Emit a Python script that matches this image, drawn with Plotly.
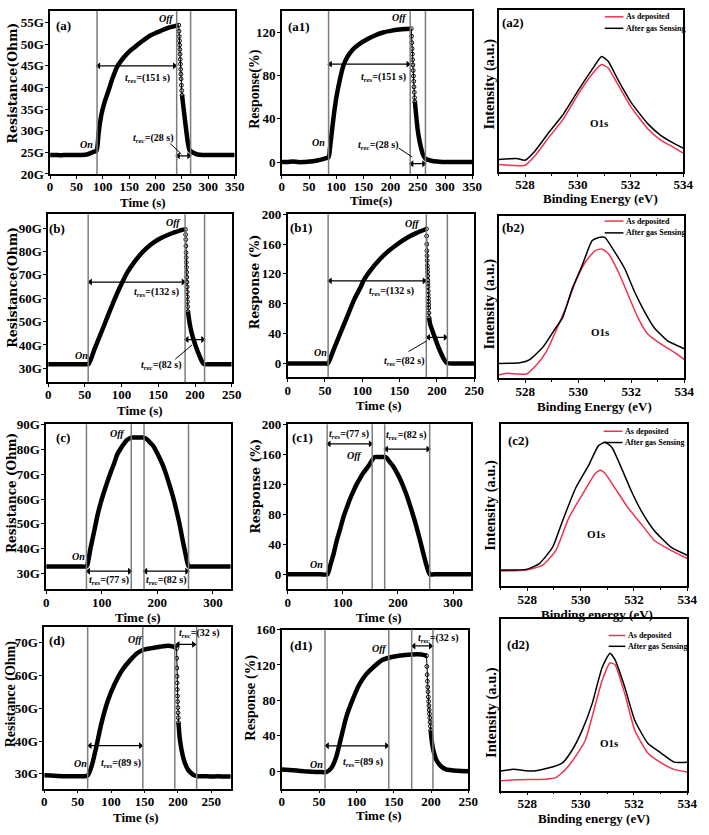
import plotly.graph_objects as go

W, H = 709, 835

# ---------------- DATA ----------------
# (a) resistance, G-ohm
a_t = [0, 10, 20, 30, 40, 50, 60, 70, 80, 88, 92, 97, 103, 110, 118, 128, 140, 150, 160, 170, 180, 190, 200, 210, 220, 230, 240, 244]
a_R = [24.4, 24.4, 24.3, 24.4, 24.4, 24.4, 24.4, 24.5, 25.0, 25.4, 29.5, 33.6, 36.5, 39.0, 42.0, 45.0, 47.0, 48.3, 49.3, 50.3, 51.2, 52.0, 52.6, 53.1, 53.6, 54.0, 54.3, 54.4]
a_dot_t = [244, 244.4, 244.8, 245.2, 245.6, 246, 246.4, 246.8, 247.2, 247.6, 248, 248.4, 249, 249.6, 250.2]
a_dot_R = [54.4, 53.0, 51.8, 50.8, 49.8, 48.8, 47.7, 46.5, 45.4, 44.2, 43.1, 42.0, 40.5, 39.3, 38.2]
a_tail_t = [250.2, 252, 255, 258, 261, 264, 266, 270, 275, 280, 290, 300, 310, 320, 330, 340, 350]
a_tail_R = [38.2, 36.3, 33.2, 30.2, 27.4, 25.6, 25.3, 25.0, 24.7, 24.5, 24.4, 24.4, 24.4, 24.4, 24.4, 24.4, 24.4]

# (a1) response %
a1_t = [0, 10, 20, 30, 40, 50, 60, 70, 80, 86, 89, 92, 96, 101, 107, 113, 120, 131, 143, 156, 170, 186, 200, 216, 228, 238]
a1_r = [0, 0, 0.5, 0, 0, 0.5, 1, 2, 3.5, 4.5, 15, 28, 45, 62, 77, 89, 97, 104.5, 109.5, 113.5, 117, 120, 121.5, 122.7, 123.2, 123.5]
a1_dot_t = [238, 238.5, 239, 239.5, 240, 240.5, 241, 241.5, 242, 242.5, 243, 243.5, 244, 244.5]
a1_dot_r = [123.5, 116.6, 110.6, 105.1, 100, 94.8, 90, 84.8, 79.7, 74.8, 69.7, 64.6, 59.7, 56]
a1_tail_t = [244.5, 247, 250, 253, 256, 259, 264, 270, 277, 290, 300, 310, 320, 330, 340, 350]
a1_tail_r = [56, 43, 29, 20, 13, 7.6, 3.0, 2.0, 1.0, 0.3, 0, 0, 0, 0, 0, 0]

# (b)
b_t = [0, 10, 20, 30, 40, 50, 55, 63, 72, 81, 90, 99, 108, 117, 128, 139, 150, 162, 173, 184, 187]
b_R = [31.8, 31.8, 31.8, 31.8, 31.8, 31.8, 31.8, 38.1, 45.1, 52.2, 59.2, 65.5, 71.1, 75.3, 79.5, 82.7, 85.1, 86.9, 88.2, 89.3, 89.4]
b_dot_t = [187.0, 187.2, 187.4, 187.6, 187.8, 188.0, 188.2, 188.4, 188.6, 188.8, 189.0, 189.2, 189.4, 189.6, 189.8, 190.0, 190.4]
b_dot_R = [89.4, 87.2, 85.1, 82.3, 79.5, 77.4, 75.3, 73.2, 71.1, 69.0, 66.9, 64.8, 62.7, 60.6, 58.5, 56.4, 54.3]
b_tail_t = [190.4, 193, 197, 202, 206, 209, 212, 220, 230, 240, 250]
b_tail_R = [54.3, 48.7, 43.3, 38.6, 35.4, 33.2, 31.8, 31.8, 31.8, 31.8, 31.8]

# (b1)
b1_t = [0, 10, 20, 30, 40, 50, 54, 62, 71, 80, 89, 98, 102, 111, 122, 133, 147, 160, 173, 184, 186]
b1_r = [0, 0, 0, 0, 0, 0, 0, 19.7, 41.6, 63.5, 85.3, 102.8, 111.6, 124.7, 137.9, 148.8, 159.7, 168.5, 175, 179.5, 180.3]
b1_dot_t = [186.0, 186.2, 186.4, 186.6, 186.8, 187.0, 187.2, 187.4, 187.5, 187.7, 187.9, 188.0, 188.2, 188.4, 188.5, 188.7, 188.8, 189.0, 189.1, 189.3, 189.5]
b1_dot_r = [180.3, 170.7, 159.7, 151.0, 144.4, 137.9, 131.3, 126.9, 122.5, 117.3, 111.6, 107.2, 102.8, 97.2, 91.9, 87.5, 83.2, 78.8, 74.4, 67.8, 61.3]
b1_tail_t = [189.5, 191, 195.6, 202, 209, 213, 220, 230, 240, 250]
b1_tail_r = [61.3, 52.5, 39.4, 21.9, 6.6, 0.9, 0, 0, 0, 0]

# (c)
c_t = [0, 10, 20, 30, 40, 50, 60, 72, 74, 80, 86.5, 92, 98, 104, 110, 116, 122, 128, 134, 140, 146, 153, 158, 164, 170, 176, 181, 186.5, 192, 198, 204, 210, 216, 222, 228, 234, 240, 245, 250, 256, 260, 270, 280, 290, 300, 310, 320, 332]
c_R = [32.9, 32.9, 32.9, 32.9, 32.9, 32.9, 32.9, 32.9, 33.5, 40.5, 47.2, 53.2, 58.4, 62.8, 66.9, 70.7, 74.2, 78.0, 80.3, 82.3, 83.8, 84.7, 84.7, 84.7, 84.7, 84.7, 84.0, 82.8, 81.5, 79.2, 76.5, 73.5, 69.8, 65.5, 61.0, 55.7, 49.8, 44.0, 38.6, 33.0, 32.9, 32.9, 32.9, 32.9, 32.9, 32.9, 32.9, 32.9]

# (c1)
c1_t = [0, 10, 20, 30, 40, 50, 60, 72, 78, 83.5, 89, 95.4, 101, 107.3, 113, 119.3, 125, 131.2, 137, 143.1, 148, 153.3, 158, 165, 170, 176, 180, 185, 191, 197, 203, 209, 215, 221, 227, 233, 239, 245, 251, 257.6, 265, 275, 285, 295, 305, 315, 325, 333]
c1_r = [0, 0, 0, 0, 0, 0, 0, 0, 14, 28, 45, 61, 76, 89, 100.5, 111, 120, 128, 135, 141, 146, 152.5, 156.5, 156.5, 156.5, 156.5, 155, 150, 144.5, 137, 128.5, 118.5, 107, 94, 80, 65, 48.5, 31, 14, 0, 0, 0, 0, 0, 0, 0, 0, 0]

# (d)
d_t = [0, 10, 20, 30, 40, 50, 60, 65, 70.8, 78, 85.4, 95, 105, 117, 129, 139, 147.5, 159, 173, 185.5, 193, 198]
d_R = [29.6, 29.5, 29.4, 29.3, 29.3, 29.3, 29.3, 29.5, 32.3, 38.3, 45.3, 52.2, 57.2, 61.7, 64.7, 66.7, 67.7, 68.2, 68.7, 69.0, 68.7, 68.2]
d_dot_t = [198, 198.2, 198.4, 198.6, 198.8, 199, 199.3, 199.6, 199.9, 200.2, 200.5, 200.8]
d_dot_R = [68.2, 65.2, 62.2, 59.7, 57.7, 55.7, 53.7, 52.0, 50.2, 48.6, 47.1, 45.6]
d_tail_t = [200.8, 203, 207.5, 211, 215, 220, 225, 230, 240, 250, 260, 270, 279]
d_tail_R = [45.6, 40.3, 35.3, 33.0, 31.3, 30.2, 29.5, 29.3, 29.3, 29.2, 29.3, 29.2, 29.2]

# (d1)
d1_t = [0, 10, 20, 30, 40, 50, 60, 66.7, 73.2, 79.8, 86.4, 95.2, 103.9, 112.7, 123.7, 134.6, 143.4, 156.6, 174, 187, 194]
d1_r = [1.8, 1.2, 0.5, -0.3, -0.8, -1.1, -1.1, 3.7, 16.6, 38.8, 61, 81.3, 97.9, 109, 118.3, 125.6, 128.2, 130.4, 131.9, 131.9, 130.4]
d1_dot_t = [194, 194.4, 194.8, 195.2, 195.6, 196, 196.4, 196.8, 197.2, 197.6, 198, 198.4, 198.8, 199.2, 199.6]
d1_dot_r = [130.4, 118.3, 109, 101.6, 95, 89.8, 83.9, 78.7, 73.9, 69.1, 64.7, 60.2, 55.4, 50.6, 46.2]
d1_tail_t = [199.6, 201, 203, 207, 212, 216, 220, 225, 230, 240, 250]
d1_tail_r = [46.2, 34, 24, 12.9, 6.5, 3.7, 2.0, 1.1, 0.5, 0, -0.2]

# XPS O1s (arbitrary intensity units)
a2_E_gas = [527, 527.68, 528.0, 528.36, 528.92, 529.42, 530.04, 530.53, 530.9, 531.15, 531.52, 532.02, 532.64, 533.13, 533.63, 534]
a2_gas = [7.7, 8.3, 7.3, 12.7, 24.8, 35, 51, 63, 71.3, 68.3, 57, 43, 30, 22.8, 17.8, 14.7]
a2_E_dep = [527, 528.0, 528.36, 528.92, 529.42, 530.04, 530.53, 530.9, 531.15, 531.52, 532.02, 532.64, 533.13, 533.63, 534]
a2_dep = [4.6, 4.2, 9.7, 21.8, 32, 48.7, 60.2, 66.3, 64.2, 54, 40, 26.9, 19.8, 15.2, 11.7]

b2_E_gas = [527, 527.8, 528.17, 528.67, 529.16, 529.41, 529.78, 530.15, 530.52, 530.77, 531.0, 531.38, 531.75, 532.12, 532.49, 532.86, 533.36, 534]
b2_gas = [9.1, 9.5, 11.5, 19.2, 31.3, 37.4, 55.6, 69.7, 84.8, 86.9, 86.9, 77.8, 67.7, 53.5, 41.4, 31.3, 23.2, 18.2]
b2_E_dep = [527, 527.3, 527.7, 528.05, 528.42, 528.79, 529.16, 529.53, 529.9, 530.27, 530.64, 530.89, 531.14, 531.51, 531.88, 532.25, 532.62, 533.11, 533.6, 534]
b2_dep = [2, 3, 2.6, 2.6, 8.1, 16.2, 29.3, 43.4, 59.6, 71.7, 78.8, 79.8, 76.8, 65.7, 51.5, 37.4, 27.3, 21.2, 16.2, 11.5]

c2_E_gas = [527, 527.96, 528.45, 528.95, 529.32, 529.81, 530.3, 530.67, 530.92, 531.17, 531.54, 531.91, 532.28, 532.77, 533.39, 534]
c2_gas = [10.1, 10.5, 14.1, 24.2, 40.4, 60.6, 74.7, 86.9, 88.9, 85.9, 72.7, 58.6, 46.5, 34.3, 24.2, 19.2]
c2_E_dep = [527, 527.47, 527.96, 528.58, 529.07, 529.56, 530.06, 530.55, 530.74, 530.92, 531.29, 531.78, 532.28, 532.77, 533.39, 534]
c2_dep = [9.5, 9.7, 10.1, 13.1, 22.2, 42.4, 56.6, 69.7, 71.7, 69.7, 60.6, 48.5, 38.4, 28.3, 22.2, 17.2]

d2_E_gas = [527, 527.47, 528.2, 528.82, 529.32, 529.69, 530.06, 530.43, 530.8, 531.1, 531.29, 531.66, 532.03, 532.52, 533.02, 533.51, 534]
d2_gas = [11.4, 12.4, 11.4, 13.3, 16.2, 23.8, 35.2, 50.5, 71.4, 80, 76.2, 60, 41, 27.6, 21.9, 16.6, 16.6]
d2_E_dep = [527, 527.59, 528.7, 529.07, 529.44, 529.81, 530.18, 530.43, 530.8, 531.1, 531.29, 531.66, 532.03, 532.52, 533.02, 533.51, 534]
d2_dep = [5.7, 6.3, 6.7, 7.6, 12.4, 20, 29.5, 42.9, 63.8, 74.3, 73.3, 56.2, 35.2, 21.9, 16.2, 12.4, 10.9]

xps_x_ticks = [528, 530, 532, 534]
series_names = ['As deposited', 'After gas Sensing']

# ---------------- LAYOUT ----------------
order = ['a', 'a1', 'a2', 'b', 'b1', 'b2', 'c', 'c1', 'c2', 'd', 'd1', 'd2']
boxes = {  # left, right, top, bottom (px)
    'a': (48, 236, 4, 170), 'a1': (284, 478, 4, 170), 'a2': (505, 693, 3, 168),
    'b': (46, 233, 211, 382), 'b1': (290, 480, 211, 377), 'b2': (505, 694, 213, 378),
    'c': (44, 232, 425, 593), 'c1': (290, 477, 425, 593), 'c2': (507, 697, 425, 590),
    'd': (42, 232, 631, 796), 'd1': (284, 474, 634, 796), 'd2': (507, 697, 623, 798),
}
ranges = {
    'a': ([0, 350], [20, 57.7], 50, 5), 'a1': ([0, 350], [-11, 140], 50, 40), 'a2': ([527, 534], [0, 100], None, None),
    'b': ([0, 250], [24.1, 95.9], 50, 10), 'b1': ([0, 250], [-18.4, 200], 50, 40), 'b2': ([527, 534], [0, 100], None, None),
    'c': ([0, 332], [23.7, 90], 100, 10), 'c1': ([0, 333], [-20, 200], 100, 40), 'c2': ([527, 534], [0, 100], None, None),
    'd': ([0, 279], [25.5, 74.8], 50, 10), 'd1': ([0, 250], [-20, 160], 50, 40), 'd2': ([527, 534], [0, 100], None, None),
}
SER = 'Liberation Serif'
DJ = 'DejaVu Serif'
# text, center x px, center y px
xtitles = {'a': ('Time (s)', 143, 199), 'a1': ('Time(s)', 375, 197), 'a2': ('Binding Energy (eV)', 609, 195),
           'b': ('Time (s)', 140, 411), 'b1': ('Time (s)', 383, 406), 'b2': ('Binding Energy (eV)', 603, 407),
           'c': ('Time (s)', 138, 622), 'c1': ('Time (s)', 383, 622), 'c2': ('Binding energy (eV)', 605, 619),
           'd': ('Time (s)', 135, 825), 'd1': ('Time (s)', 383, 823), 'd2': ('Binding energy (eV)', 602, 826)}
ytitles = {'a': ('Resistance(Ohm)', DJ, 12.5, 10, 77), 'a1': ('Response(%)', SER, 14, 256, 83),
           'a2': ('Intensity (a.u.)', SER, 14.5, 496, 78),
           'b': ('Resistance(Ohm)', DJ, 12.5, 10, 285), 'b1': ('Response (%)', DJ, 12.5, 257, 280),
           'b2': ('Intensity (a.u.)', SER, 14.5, 496, 302),
           'c': ('Resistance (Ohm)', DJ, 12, 9, 495), 'c1': ('Response (%)', DJ, 12.5, 257, 488),
           'c2': ('Intensity (a.u.)', SER, 14.5, 497, 507),
           'd': ('Resistance (Ohm)', SER, 14, 9, 700), 'd1': ('Response (%)', SER, 14.5, 252, 703),
           'd2': ('Intensity (a.u.)', SER, 14.5, 497, 718)}

fig = go.Figure()
lay = {}
shapes = []
annots = []


def axn(k):
    i = order.index(k) + 1
    return ('x' if i == 1 else f'x{i}', 'y' if i == 1 else f'y{i}', 'xaxis' if i == 1 else f'xaxis{i}', 'yaxis' if i == 1 else f'yaxis{i}')


tickfont = dict(family=SER, size=13, color='black', weight='bold')
for k in order:
    xa, ya, xk, yk = axn(k)
    l, r, t, b = boxes[k]
    xr, yr, dx, dy = ranges[k]
    common = dict(showline=True, linecolor='black', linewidth=1.5, mirror=True, showgrid=False, zeroline=False,
                  ticks='outside', ticklen=3, tickwidth=1.2, tickcolor='black', tickfont=tickfont, fixedrange=True)
    xax = dict(common, domain=[l / W, r / W], range=xr, anchor=ya, ticklabelstandoff=-3)
    yax = dict(common, domain=[1 - b / H, 1 - t / H], range=yr, anchor=xa, ticklabelstandoff=-1)
    if dx is None:
        xax.update(tickvals=xps_x_ticks, minor=dict(dtick=1, ticks='outside', ticklen=2, tickcolor='black'))
        yax.update(showticklabels=False, ticks='')
    else:
        xax.update(dtick=dx, tick0=0)
        yax.update(dtick=dy, tick0=0)
        if k in ('a', 'b', 'c', 'd'):
            yax.update(ticksuffix='G')
    lay[xk] = xax
    lay[yk] = yax
    xt, xcx, xcy = xtitles[k]
    annots.append(dict(xref='paper', yref='paper', x=xcx / W, y=1 - xcy / H, text=xt, showarrow=False,
                       xanchor='center', yanchor='middle',
                       font=dict(family=SER, size=13, color='black', weight='bold')))
    yt, yfam, ysz, ycx, ycy = ytitles[k]
    annots.append(dict(xref='paper', yref='paper', x=ycx / W, y=1 - ycy / H, text=yt, showarrow=False,
                       textangle=-90, xanchor='center', yanchor='middle',
                       font=dict(family=yfam, size=ysz, color='black', weight='bold')))

THICK = dict(color='black', width=4.5, shape='spline', smoothing=0.6)


def sensor(k, t1, y1, td=None, yd=None, t2=None, y2=None):
    xa, ya, _, _ = axn(k)
    fig.add_trace(go.Scatter(x=t1, y=y1, mode='lines', line=THICK, xaxis=xa, yaxis=ya, showlegend=False, hoverinfo='skip'))
    if td is not None:
        fig.add_trace(go.Scatter(x=td, y=yd, mode='lines+markers', line=dict(color='black', width=1),
                                 marker=dict(symbol='circle-open', size=3.8, color='black', line=dict(width=1)),
                                 xaxis=xa, yaxis=ya, showlegend=False, hoverinfo='skip'))
        fig.add_trace(go.Scatter(x=t2, y=y2, mode='lines', line=THICK, xaxis=xa, yaxis=ya, showlegend=False, hoverinfo='skip'))


sensor('a', a_t, a_R, a_dot_t, a_dot_R, a_tail_t, a_tail_R)
sensor('a1', a1_t, a1_r, a1_dot_t, a1_dot_r, a1_tail_t, a1_tail_r)
sensor('b', b_t, b_R, b_dot_t, b_dot_R, b_tail_t, b_tail_R)
sensor('b1', b1_t, b1_r, b1_dot_t, b1_dot_r, b1_tail_t, b1_tail_r)
sensor('c', c_t, c_R)
sensor('c1', c1_t, c1_r)
sensor('d', d_t, d_R, d_dot_t, d_dot_R, d_tail_t, d_tail_R)
sensor('d1', d1_t, d1_r, d1_dot_t, d1_dot_r, d1_tail_t, d1_tail_r)

RED = '#f2314f'
# panel, dep-x, dep-y, gas-x, gas-y, legend line x0/x1 px, legend first-row y px, row gap px
xps = [('a2', a2_E_dep, a2_dep, a2_E_gas, a2_gas, 613, 632, 10, 11.7),
       ('b2', b2_E_dep, b2_dep, b2_E_gas, b2_gas, 613, 632, 218, 12),
       ('c2', c2_E_dep, c2_dep, c2_E_gas, c2_gas, 612, 631, 432, 11.5),
       ('d2', d2_E_dep, d2_dep, d2_E_gas, d2_gas, 617, 634, 640, 11)]
for k, ed, dep, eg, gas, lx0, lx1, ly, gap in xps:
    xa, ya, _, _ = axn(k)
    fig.add_trace(go.Scatter(x=ed, y=dep, mode='lines', name=series_names[0], line=dict(color=RED, width=1.5, shape='spline', smoothing=0.5),
                             xaxis=xa, yaxis=ya, showlegend=False))
    fig.add_trace(go.Scatter(x=eg, y=gas, mode='lines', name=series_names[1], line=dict(color='black', width=1.5, shape='spline', smoothing=0.5),
                             xaxis=xa, yaxis=ya, showlegend=False))
    for j, (nm, col) in enumerate(zip(series_names, [RED, 'black'])):
        yy = 1 - (ly + j * gap) / H
        shapes.append(dict(type='line', xref='paper', yref='paper', x0=lx0 / W, x1=lx1 / W, y0=yy, y1=yy,
                           line=dict(color=col, width=1.5)))
        annots.append(dict(xref='paper', yref='paper', x=(lx1 + 1) / W, y=yy, text=nm, showarrow=False,
                           xanchor='left', yanchor='middle',
                           font=dict(family=SER, size=8, color='black', weight='bold')))

GRAY = '#7d7d7d'


def vline(k, x):
    xa, ya, _, _ = axn(k)
    shapes.append(dict(type='line', xref=xa, yref=f'{ya} domain', x0=x, x1=x, y0=0, y1=1, line=dict(color=GRAY, width=1.5)))


def harrow(k, x0, x1, y):
    xa, ya, _, _ = axn(k)
    fig.add_trace(go.Scatter(x=[x0, x1], y=[y, y], mode='lines+markers', line=dict(color='black', width=1.2),
                             marker=dict(symbol=['triangle-left', 'triangle-right'], size=6, color='black'),
                             xaxis=xa, yaxis=ya, showlegend=False, hoverinfo='skip'))


def seg(k, x0, y0, x1, y1):
    xa, ya, _, _ = axn(k)
    shapes.append(dict(type='line', xref=xa, yref=ya, x0=x0, x1=x1, y0=y0, y1=y1, line=dict(color='black', width=1)))


def text(k, x, y, s, size=10, italic=False, xanchor='center'):
    xa, ya, _, _ = axn(k)
    annots.append(dict(xref=xa, yref=ya, x=x, y=y, text=s, showarrow=False, xanchor=xanchor,
                       font=dict(family=SER, size=size, color='black', weight='bold', style='italic' if italic else 'normal')))


TRES = '<i>t</i><sub><i>res</i></sub>'
TREC = '<i>t</i><sub><i>rec</i></sub>'

# (a)
for x in (89, 240, 266.4):
    vline('a', x)
harrow('a', 92, 236, 45)
harrow('a', 243, 263, 24.2)
seg('a', 228, 27.0, 249, 24.6)
text('a', 26, 54.3, '(a)', 13)
text('a', 221, 55.9, 'Off', 10, True)
text('a', 69, 26.9, 'On', 10, True)
text('a', 184, 42.0, TRES + '=(151 s)')
text('a', 196, 28.2, TREC + '=(28 s)')
# (a1)
for x in (86, 236, 264):
    vline('a1', x)
harrow('a1', 89, 232, 90.7)
harrow('a1', 239, 261, -1.5)
seg('a1', 215, 13, 240, 4.5)
text('a1', 31.5, 125.5, '(a1)', 13)
text('a1', 216, 133.5, 'Off', 10, True)
text('a1', 68, 18, 'On', 10, True)
text('a1', 186, 78, TRES + '=(151 s)')
text('a1', 177, 15.5, TREC + '=(28 s)')
# (b)
for x in (54.5, 186.5, 213):
    vline('b', x)
harrow('b', 57.5, 184, 66.9)
harrow('b', 189, 210.5, 42.3)
seg('b', 173, 33.9, 196, 40)
text('b', 12, 90, '(b)', 13)
text('b', 171, 92.2, 'Off', 10, True)
text('b', 45.5, 35.5, 'On', 10, True)
text('b', 148, 62.5, TRES + '=(132 s)')
text('b', 153, 31.0, TREC + '=(82 s)')
# (b1)
for x in (54.2, 185.8, 214):
    vline('b1', x)
harrow('b1', 57, 183, 110.7)
harrow('b1', 188.7, 211.3, 35)
seg('b1', 162, 16, 186, 30)
text('b1', 17.8, 181.6, '(b1)', 13)
text('b1', 166.7, 187.5, 'Off', 10, True)
text('b1', 44.4, 14.5, 'On', 10, True)
text('b1', 138.7, 97, TRES + '=(132 s)')
text('b1', 155.5, 2, TREC + '=(82 s)')
# (c)
for x in (72.4, 153, 176, 256):
    vline('c', x)
harrow('c', 76, 150, 31)
harrow('c', 179, 253, 31)
text('c', 30.6, 84.7, '(c)', 13)
text('c', 127.6, 86.5, 'Off', 10, True)
text('c', 58, 37, 'On', 10, True)
text('c', 113, 27.1, TRES + '=(77 s)')
text('c', 216, 27.1, TREC + '=(82 s)')
# (c1)
for x in (71.6, 153.3, 176, 257.6):
    vline('c1', x)
harrow('c1', 75, 150, 174)
harrow('c1', 179, 254.5, 167)
text('c1', 26.8, 182.6, '(c1)', 13)
text('c1', 122, 158.5, 'Off', 10, True)
text('c1', 52.5, 13, 'On', 10, True)
text('c1', 112, 187, TRES + '=(77 s)')
text('c1', 215, 185, TREC + '=(82 s)')
# (d)
for x in (65, 147.5, 195.3, 228):
    vline('d', x)
harrow('d', 68.5, 144, 38.6)
harrow('d', 200, 223.5, 69.4)
text('d', 19.5, 70.7, '(d)', 13)
text('d', 136.7, 71, 'Off', 10, True)
text('d', 53.7, 33.3, 'On', 10, True)
text('d', 114.7, 33.3, TRES + '=(89 s)')
text('d', 232, 72.7, TREC + '=(32 s)')
# (d1)
for x in (57.9, 143.4, 174.1, 202.6):
    vline('d1', x)
harrow('d1', 61, 140.5, 28.5)
harrow('d1', 177, 199.3, 141.5)
text('d1', 25.9, 142.3, '(d1)', 13)
text('d1', 131, 138.6, 'Off', 10, True)
text('d1', 46.9, 7.4, 'On', 10, True)
text('d1', 109.2, 9.2, TRES + '=(89 s)')
text('d1', 209, 150.4, TREC + '=(32 s)')
# XPS labels
text('a2', 527.55, 92.5, '(a2)', 13)
text('a2', 530.84, 30, 'O1s', 11)
text('b2', 527.55, 93, '(b2)', 13)
text('b2', 530.83, 28.3, 'O1s', 11)
text('c2', 527.65, 90, '(c2)', 13)
text('c2', 530.6, 32.3, 'O1s', 11)
text('d2', 527.65, 84.8, '(d2)', 13)
text('d2', 531.1, 28, 'O1s', 11)

fig.update_layout(width=W, height=H, margin=dict(l=0, r=0, t=0, b=0), plot_bgcolor='white', paper_bgcolor='white',
                  showlegend=False, shapes=shapes, annotations=annots, **lay)
fig.write_html("out.html", config={'displayModeBar': False},
               post_script="document.body.style.margin='0px';document.body.style.overflow='hidden';")
